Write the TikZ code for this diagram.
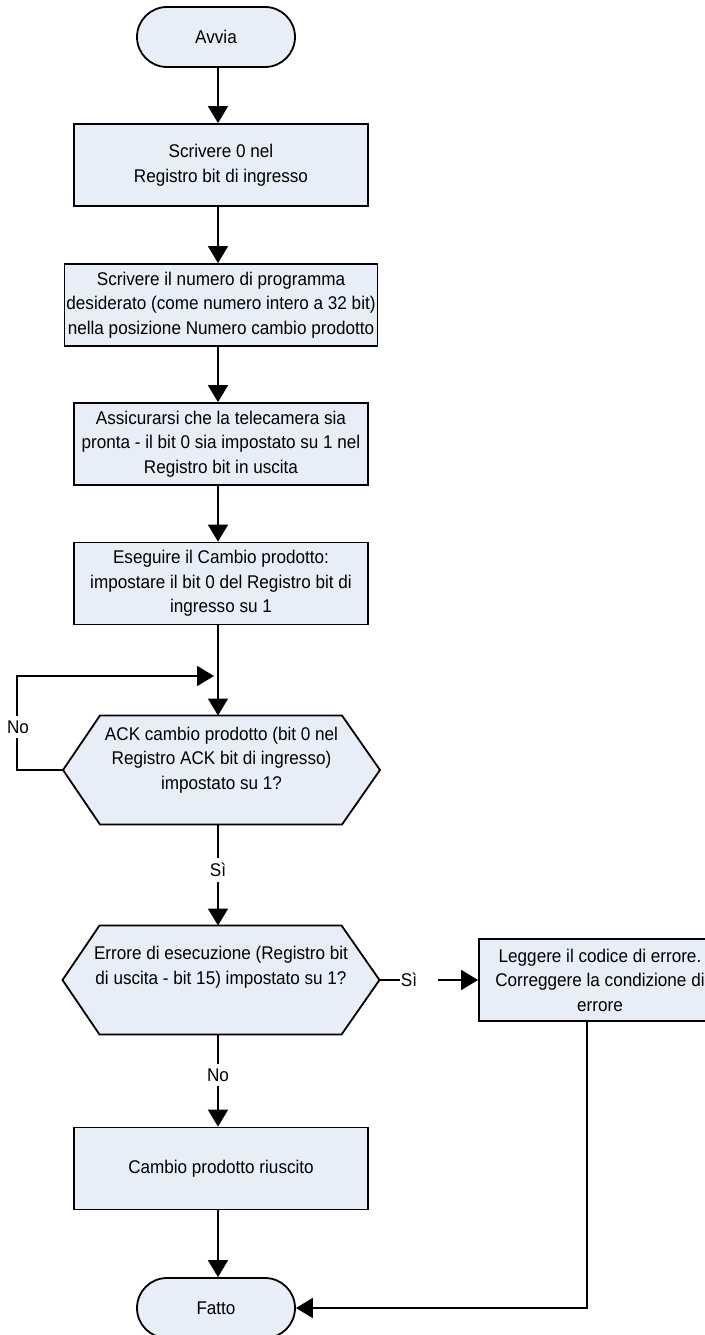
\documentclass[tikz,border=0pt]{standalone}
\usepackage{fontspec}
\setmainfont{Liberation Sans}[FakeStretch=0.93]
\usetikzlibrary{arrows.meta,backgrounds}

\definecolor{boxfill}{RGB}{232,238,247}

\begin{document}
\begin{tikzpicture}[x=1pt,y=-1pt,
  font=\fontsize{18.4}{24.5}\selectfont,
  line width=1.8pt,
  proc/.style={draw=black, fill=boxfill, minimum width=294pt, minimum height=82pt,
    inner xsep=2pt, align=center},
  term/.style={draw=black, fill=boxfill, rounded corners=30pt, minimum width=158pt,
    minimum height=60pt},
  hexframe/.style={minimum width=317pt, minimum height=109pt, inner sep=0pt, outer sep=0pt},
  hexshape/.style={draw=black, fill=boxfill, line width=1.8pt, line join=miter},
  qtext/.style={align=center, inner sep=0pt},
  lbl/.style={fill=white, inner xsep=1pt, inner ysep=5pt},
  arr/.style={-{Triangle[width=20pt,length=17pt]}},
]
\useasboundingbox (0,0) rectangle (704,1335);

% process column
\node[term] (start) at (216,37) {Avvia};
\node[proc] (p1) at (221,165) {Scrivere 0 nel\\Registro bit di ingresso};
\node[proc] (p2) at (221,305) {Scrivere il numero di programma\\desiderato (come numero intero a 32 bit)\\nella posizione Numero cambio prodotto};
\node[proc] (p3) at (221,444) {Assicurarsi che la telecamera sia\\pronta - il bit 0 sia impostato su 1 nel\\Registro bit in uscita};
\node[proc] (p4) at (221,583.5) {Eseguire il Cambio prodotto:\\impostare il bit 0 del Registro bit di\\ingresso su 1};

% decisions: invisible frames carry the anchors, text sits slightly high
\node[hexframe] (q1) at (221.5,770) {};
\node[qtext] (q1t) at (221.5,760) {ACK cambio prodotto (bit 0 nel\\Registro ACK bit di ingresso)\\impostato su 1?};
\node[hexframe] (q2) at (221,980) {};
\node[qtext] (q2t) at (221,967) {Errore di esecuzione (Registro bit\\di uscita - bit 15) impostato su 1?};

\node[proc, minimum width=242pt] (err) at (600,980) {Leggere il codice di errore.\\Correggere la condizione di\\errore};
\node[proc] (p5) at (221,1168.5) {Cambio prodotto riuscito};
\node[term] (stop) at (216,1308) {Fatto};

% hexagon outlines behind the decision texts
\begin{scope}[on background layer]
  \foreach \q in {q1,q2}{
    \path[hexshape] (\q.west) -- ([xshift=37pt]\q.north west) -- ([xshift=-38pt]\q.north east)
      -- (\q.east) -- ([xshift=-38pt]\q.south east) -- ([xshift=37pt]\q.south west) -- cycle;
  }
\end{scope}

% connectors
\coordinate (axis) at (218,0);
\coordinate (loopx) at (17,770);
\coordinate (loopend) at (214,676);
\coordinate (drop) at (587,0);

\draw[arr] (axis |- start.south) -- (axis |- p1.north);
\draw[arr] (axis |- p1.south) -- (axis |- p2.north);
\draw[arr] (axis |- p2.south) -- (axis |- p3.north);
\draw[arr] (axis |- p3.south) -- (axis |- p4.north);
\draw[arr] (axis |- p4.south) -- (axis |- q1.north);
\draw[arr] (q1.west) -- (loopx) |- (loopend);
\draw[arr] (axis |- q1.south) -- (axis |- q2.north);
\draw[arr] (axis |- q2.south) -- (axis |- p5.north);
\draw[arr] (axis |- p5.south) -- (axis |- stop.north);
\draw[arr] (drop |- err.south) -- (drop |- stop.east) -- (stop.east);

% branch labels
\node[lbl] (lno1) at (18,727) {No};
\node[lbl] (lsi1) at (218,870) {Sì};
\node[lbl] (lno2) at (218,1075) {No};
\node[anchor=west, inner xsep=0pt] (lsi2) at (400,980) {Sì};
\draw (q2.east) -- (lsi2.west);
\draw[arr] ([xshift=20pt]lsi2.east) -- (err.west);
\end{tikzpicture}
\end{document}
